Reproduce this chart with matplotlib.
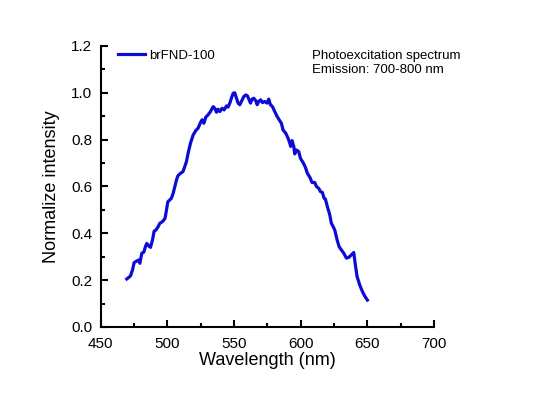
import numpy as np
import matplotlib
matplotlib.use("Agg")
import matplotlib.pyplot as plt
from matplotlib.ticker import MultipleLocator

plt.rcParams['font.family'] = ['Liberation Sans', 'DejaVu Sans']

# photoexcitation spectrum, values
wavelength = [469.5, 472.3, 473.8, 475.0, 478.3, 479.3, 480.8, 482.3, 483.5, 484.5,
              486.0, 487.3, 488.8, 490.0, 491.3, 493.0, 494.3, 496.3, 498.2, 499.3,
              500.3, 501.3, 503.0, 504.3, 506.8, 507.8, 509.3, 511.7, 513.0, 514.3,
              515.5, 517.3, 519.3, 521.3, 523.0, 524.8, 526.0, 527.3, 528.8, 530.5,
              532.3, 534.3, 535.5, 536.8, 538.0, 539.3, 541.0, 542.5, 544.3, 545.5,
              546.8, 548.0, 549.3, 550.5, 551.8, 553.0, 554.3, 555.5, 557.3, 558.8,
              560.0, 561.3, 562.3, 563.5, 564.8, 566.3, 567.3, 568.5, 570.0, 571.3,
              573.0, 574.8, 576.0, 577.3, 578.8, 580.5, 582.3, 583.8, 585.5, 586.7,
              588.8, 590.5, 591.8, 592.5, 593.5, 594.8, 595.5, 596.8, 598.5, 599.8,
              601.8, 603.5, 605.0, 606.8, 608.5, 610.5, 611.8, 613.5, 614.8, 616.3,
              617.5, 618.5, 620.0, 621.8, 623.0, 624.3, 625.5, 627.3, 628.8, 630.5,
              632.3, 634.3, 636.0, 638.0, 639.8, 641.0, 642.3, 644.3, 646.3, 648.0,
              650.0]
intensity = [0.205, 0.218, 0.244, 0.275, 0.286, 0.272, 0.315, 0.320, 0.343, 0.357,
             0.346, 0.340, 0.372, 0.409, 0.414, 0.428, 0.443, 0.450, 0.464, 0.500,
             0.535, 0.540, 0.550, 0.571, 0.628, 0.645, 0.654, 0.664, 0.685, 0.707,
             0.742, 0.785, 0.820, 0.839, 0.849, 0.873, 0.885, 0.870, 0.896, 0.906,
             0.920, 0.941, 0.934, 0.917, 0.930, 0.920, 0.934, 0.927, 0.944, 0.939,
             0.956, 0.977, 0.998, 1.000, 0.977, 0.956, 0.949, 0.963, 0.984, 0.991,
             0.987, 0.970, 0.956, 0.973, 0.977, 0.966, 0.949, 0.963, 0.970, 0.958,
             0.963, 0.956, 0.973, 0.949, 0.941, 0.920, 0.899, 0.885, 0.870, 0.842,
             0.827, 0.806, 0.785, 0.771, 0.796, 0.771, 0.739, 0.756, 0.749, 0.720,
             0.702, 0.682, 0.656, 0.640, 0.617, 0.617, 0.600, 0.592, 0.578, 0.574,
             0.550, 0.546, 0.514, 0.479, 0.443, 0.429, 0.415, 0.372, 0.343, 0.329,
             0.315, 0.294, 0.297, 0.308, 0.318, 0.265, 0.215, 0.179, 0.151, 0.132,
             0.115]

fig = plt.figure(figsize=(5.6, 3.93), dpi=100)
ax = fig.add_axes([0.18, 0.168, 0.595, 0.715])

ax.plot(wavelength, intensity, color='#0c0cd6', lw=2.3, label='brFND-100')

ax.set_xlim(450, 700)
ax.set_ylim(0, 1.2)
ax.xaxis.set_major_locator(MultipleLocator(50))
ax.xaxis.set_minor_locator(MultipleLocator(25))
ax.yaxis.set_major_locator(MultipleLocator(0.2))
ax.yaxis.set_minor_locator(MultipleLocator(0.1))
ax.yaxis.set_major_formatter(plt.FormatStrFormatter('%.1f'))

for s in ['top', 'right']:
    ax.spines[s].set_visible(False)
for s in ['left', 'bottom']:
    ax.spines[s].set_linewidth(1.5)

ax.tick_params(which='major', direction='in', length=5, width=1.5, labelsize=11)
ax.tick_params(which='minor', direction='in', length=3, width=1.5)
ax.tick_params(axis='x', which='major', pad=7)
ax.tick_params(axis='y', which='major', pad=6)

ax.set_xlabel('Wavelength (nm)', fontsize=13, labelpad=1)
ax.set_ylabel('Normalize intensity', fontsize=13, labelpad=8)

ax.legend(loc='upper left', frameon=False, fontsize=9.5, handlelength=2.0,
          handletextpad=0.35, borderaxespad=0.3, bbox_to_anchor=(0.025, 1.02))

ax.text(0.633, 0.985, 'Photoexcitation spectrum\nEmission: 700-800 nm',
        transform=ax.transAxes, fontsize=9.5, va='top', ha='left', linespacing=1.2)

fig.savefig('out.png', dpi=100)
